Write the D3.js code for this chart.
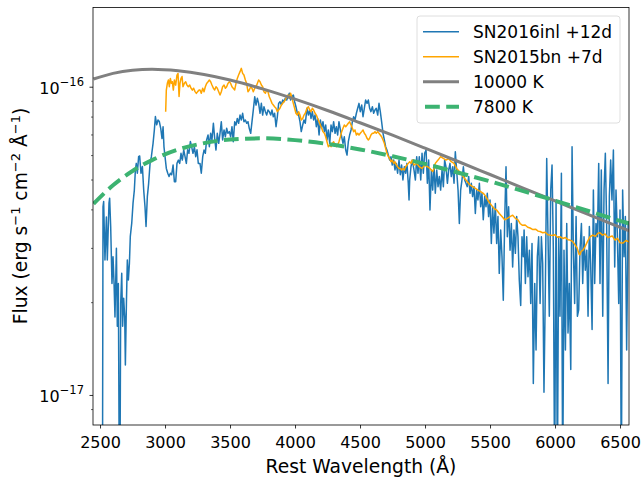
<!DOCTYPE html>
<html><head><meta charset="utf-8">
<script src="https://cdn.jsdelivr.net/npm/d3@7"></script>
<style>body{margin:0;background:#fff} svg{display:block} text{font-family:"DejaVu Sans",sans-serif;fill:#000}</style>
</head><body><svg id="c" width="644" height="477"></svg>
<script>
// Flux values are in units of 1e-17 erg s^-1 cm^-2 Å^-1
const blueWave=[2518,2523,2528,2538,2549,2556,2569,2574,2582,2592,2600,2608,2615,2626,2633,2641,2651,2659,2667,2674,2682,2690,2695,2703,2710,2718,2726,2733,2744,2754,2764,2772,2779,2787,2797,2805,2815,2826,2836,2846,2854,2864,2874,2885,2895,2908,2918,2926,2936,2946,2956,2967,2977,2985,2992,3003,3010,3021,3031,3041,3051,3062,3072,3082,3092,3103,3113,3123,3133,3144,3154,3164,3174,3184,3195,3205,3215,3226,3236,3246,3256,
3269,3279,3290,3300,3310,3320,3331,3341,3351,3361,3372,3382,3392,3402,3413,3423,3433,3443,3454,3464,3474,3484,3495,3505,3515,3525,3536,3546,3556,3566,3577,3587,3597,3607,3618,3628,3638,3648,3659,3669,3679,3690,3700,3710,3720,3731,3741,3751,3761,3772,3782,3792,3802,3813,3823,3833,3843,3854,3864,3874,3884,3895,3905,3915,3925,3936,3946,3956,3966,3977,3987,3997,4007,4018,4028,4038,4048,4059,4069,4079,
4092,4103,4113,4123,4133,4143,4154,4164,4174,4185,4195,4205,4215,4226,4236,4246,4256,4267,4277,4287,4297,4308,4318,4328,4338,4349,4359,4369,4379,4390,4400,4410,4420,4431,4441,4451,4461,4472,4482,4492,4502,4513,4523,4533,4543,4554,4564,4574,4584,4595,4605,4615,4625,4636,4646,4656,4666,4677,4687,4697,4707,4718,4728,4738,4748,4759,4769,4779,4789,4800,4810,4820,4830,4841,4851,4861,4871,4877,4882,4892,4902,
4915,4926,4936,4946,4956,4967,4977,4987,4997,5008,5018,5028,5038,5049,5059,5069,5079,5090,5100,5110,5120,5131,5141,5151,5161,5172,5182,5192,5202,5213,5223,5233,5243,5254,5264,5274,5284,5295,5305,5315,5325,5336,5346,5356,5366,5377,5387,5397,5407,5418,5428,5438,5448,5459,5469,5479,5489,5500,5510,5520,5530,5541,5551,5561,5571,5582,5592,5602,5613,5623,5633,5643,5654,5664,5674,5684,5695,5705,5715,5725,5736,5746,5756,
5762,5772,5782,5792,5803,5813,5823,5833,5844,5854,5864,5874,5885,5895,5905,5915,5926,5936,5946,5956,5967,5977,5987,5997,6008,6018,6028,6038,6049,6059,6069,6080,6090,6100,6110,6121,6131,6141,6151,6162,6172,6182,6192,6203,6213,6223,6233,6244,6254,6264,6274,6285,6295,6305,6315,6326,6336,6346,6356,6367,6377,6387,6397,6408,6418,6428,6438,6449,6459,6469,6479,6490,6500,6510,6520,6531,6541,6551,6562];
const blueFlux=[0.3,4.08,4.24,2.74,3.78,2.74,4.19,4.35,3.52,2.30,2.81,2.30,1.79,2.99,1.67,2.30,0.3,1.98,2.48,1.67,2.06,1.79,1.25,1.98,2.74,2.36,2.67,3.27,3.61,4.19,4.62,5.37,5.64,5.24,5.93,5.96,5.24,5.51,4.62,4.08,3.52,4.40,4.86,5.64,5.93,6.55,7.24,8.00,7.52,7.80,7.71,7.33,6.79,7.41,6.38,5.78,5.43,5.24,5.11,5.24,5.18,5.57,4.92,4.92,5.64,5.78,5.64,6.08,5.78,6.24,5.93,5.64,6.24,6.08,6.64,6.38,6.08,6.38,5.93,6.24,5.64,
5.64,5.24,5.93,6.23,6.08,6.72,6.97,6.39,7.06,6.72,7.61,6.80,6.23,7.06,6.55,7.06,7.70,6.72,7.24,6.88,7.33,7.06,7.15,6.88,7.42,6.63,7.70,7.51,7.89,7.61,8.09,7.80,8.20,7.70,7.80,7.61,7.70,7.33,7.06,7.70,8.40,9.28,8.72,9.17,8.83,8.20,8.83,8.09,8.61,8.30,8.09,8.40,8.30,8.09,8.40,7.99,8.20,7.42,7.99,8.83,8.94,8.72,9.05,8.94,9.17,9.05,9.28,9.52,9.05,9.28,9.40,8.94,8.61,8.20,8.09,7.70,7.15,7.51,7.80,7.61,
8.51,8.09,8.40,7.89,8.30,7.80,8.09,7.42,7.89,6.97,7.80,7.33,7.70,7.15,7.51,6.72,7.24,6.55,7.51,7.15,7.70,7.06,7.42,6.97,7.70,7.24,6.88,6.55,6.88,6.23,6.00,6.63,6.97,7.24,7.70,7.99,7.80,8.20,8.51,8.83,8.30,8.72,7.99,8.51,9.05,8.83,9.05,8.51,8.30,8.61,8.20,8.40,8.51,8.09,8.83,8.30,7.70,7.06,6.72,6.39,6.23,6.00,5.78,5.93,5.57,5.78,5.37,5.64,5.24,5.78,5.18,5.57,4.98,5.50,5.24,5.64,4.86,4.29,4.98,5.50,5.78,
5.37,4.98,5.93,5.24,5.93,4.98,6.08,5.24,6.08,6.23,4.86,5.78,3.98,5.37,4.62,5.57,4.51,5.37,4.74,5.11,4.62,5.37,4.74,5.78,5.50,4.86,5.37,5.64,5.11,5.50,4.86,6.15,5.37,4.62,3.60,4.62,4.98,5.50,4.98,4.86,4.74,5.11,4.51,4.86,4.40,4.74,3.88,4.62,4.29,4.86,4.08,4.51,3.70,4.40,4.08,4.51,3.79,4.29,3.10,4.08,3.35,4.18,3.10,3.79,2.48,3.43,2.81,2.03,3.70,5.50,3.26,4.08,2.95,3.60,2.60,3.43,2.88,3.79,3.26,2.36,1.95,3.26,2.81,
3.43,2.30,3.26,2.42,2.95,1.98,3.10,1.09,2.30,1.40,2.81,3.26,1.98,3.26,2.67,1.02,2.30,5.85,3.26,1.80,4.62,5.57,2.95,0.5,4.29,0.5,3.26,1.80,5.24,0.5,2.95,1.40,3.60,1.59,2.30,1.21,6.39,2.95,1.98,3.79,1.80,1.89,2.95,3.60,2.30,3.26,2.54,2.95,1.80,3.52,2.67,1.63,4.62,2.30,3.60,3.26,5.64,2.30,5.37,1.80,4.62,6.08,3.60,1.09,4.40,5.78,4.29,6.23,2.60,4.62,3.35,1.98,3.98,0.5,4.62,2.81,3.79,1.40,3.60];

const orangeWave=[3005,3010,3018,3026,3033,3041,3049,3056,3064,3072,3082,3092,3100,3108,3115,3123,3131,3138,3149,3159,3169,3179,3190,3200,3210,3220,3231,3241,3251,3262,
3269,3279,3290,3300,3310,3320,3331,3341,3351,3361,3372,3382,3392,3402,3413,3423,3433,3443,3454,3464,3474,3484,3495,3505,3515,3525,3536,3546,3556,3566,3577,3587,3597,3607,3618,3628,3638,3648,3659,3669,3679,3690,3700,3710,3720,3731,3741,3751,3761,3772,3782,3792,3802,3813,3823,3833,3843,3854,3864,3874,3884,3895,3905,3915,3925,3936,3946,3956,3966,3977,3987,3997,4007,4018,4028,4038,4048,4059,4069,4079,
4092,4103,4113,4123,4133,4143,4154,4164,4174,4185,4195,4205,4215,4226,4236,4246,4256,4267,4277,4287,4297,4308,4318,4328,4338,4349,4359,4369,4379,4390,4400,4410,4420,4431,4441,4451,4461,4472,4482,4492,4502,4513,4523,4533,4543,4554,4564,4574,4584,4595,4605,4615,4625,4636,4646,4656,4666,4677,4687,4697,4707,4718,4728,4738,4748,4759,4769,4779,4789,4800,4810,4820,4830,4841,4851,4861,4871,4882,4892,4902,
4915,4936,4956,4977,4997,5018,5038,5059,5069,5079,5100,5120,5141,5161,5182,5202,5223,5243,5264,5284,5305,5325,5346,5366,5387,5407,5428,5448,5469,5489,5510,5530,5551,5571,5592,5613,5633,5654,5674,5695,5715,
5731,5750,5770,5790,5808,5830,5850,5870,5885,5905,5925,5945,5962,5980,6000,6020,6038,6060,6080,6100,6115,6135,6154,6170,6185,6192,6200,6215,6231,6250,6269,6290,6310,6330,6346,6365,6385,6405,6423,6440,6462,6480,6500,6523,6545,6569];
const orangeFlux=[8.30,9.75,10.26,10.52,10.00,10.64,10.26,10.38,9.75,10.52,10.12,10.91,11.04,9.29,10.26,10.64,10.79,10.00,10.26,10.38,10.12,10.00,10.12,9.89,9.75,9.89,9.64,9.51,9.64,9.75,
9.76,9.52,9.88,9.63,10.00,10.25,10.38,10.51,10.38,10.13,9.88,9.76,10.00,9.88,9.63,9.40,9.63,10.00,10.13,9.88,10.00,10.25,10.38,10.25,10.00,9.88,9.76,10.25,10.64,10.91,11.19,11.47,11.05,10.91,10.51,10.25,9.63,9.76,10.00,9.88,9.63,9.88,10.00,10.25,10.51,10.38,10.13,10.00,9.63,9.52,9.76,9.63,9.28,9.05,8.83,8.72,8.61,8.51,8.30,8.40,8.51,8.72,8.83,8.94,9.05,9.28,9.40,9.17,9.52,9.17,8.83,8.51,8.20,8.09,8.30,8.09,7.80,7.89,8.09,8.20,
8.51,8.61,8.40,8.30,8.51,8.40,8.20,8.09,7.89,7.70,7.51,7.33,7.15,7.06,6.88,6.63,6.39,6.47,6.39,6.55,6.63,6.47,6.39,6.47,6.63,6.88,7.15,7.33,7.51,7.42,7.51,7.61,7.70,7.51,7.33,7.15,7.24,6.97,7.06,6.97,7.06,7.15,7.24,7.06,6.97,6.80,6.72,6.80,6.97,7.06,7.06,7.15,7.06,7.15,7.06,6.97,6.88,6.72,6.55,6.31,6.08,5.93,5.85,5.71,5.78,5.64,5.71,5.57,5.50,5.43,5.43,5.37,5.43,5.37,5.50,5.57,5.64,5.71,5.64,5.78,
5.57,5.64,5.50,5.43,5.57,5.50,5.43,5.31,5.43,5.64,5.78,5.93,5.85,5.78,5.85,5.71,5.64,5.43,5.31,5.18,5.04,4.92,4.80,4.74,4.68,4.62,4.57,4.51,4.40,4.24,4.13,4.03,3.98,3.88,3.79,3.70,3.74,3.79,3.83,3.74,3.70,
3.60,3.55,3.56,3.50,3.48,3.44,3.45,3.40,3.39,3.36,3.37,3.31,3.30,3.29,3.31,3.25,3.26,3.22,3.24,3.19,3.18,3.15,3.07,3.00,2.86,2.85,2.92,2.95,3.03,3.15,3.26,3.30,3.27,3.35,3.36,3.30,3.33,3.24,3.26,3.28,3.18,3.22,3.12,3.11,3.17,3.14];

const bbWave=[2450,2600,2750,2900,3100,3300,3500,3750,4000,4250,4500,4750,5000,5250,5500,5750,6000,6250,6500,6570];
const bb10000=[10.59,11.05,11.31,11.39,11.26,10.95,10.51,9.84,9.11,8.37,7.64,6.96,6.32,5.73,5.19,4.70,4.26,3.86,3.50,3.41];
const bb7800=[4.17,4.79,5.33,5.78,6.25,6.56,6.74,6.80,6.71,6.52,6.26,5.95,5.62,5.27,4.93,4.59,4.27,3.96,3.67,3.60];

const xTicks=[2500,3000,3500,4000,4500,5000,5500,6000,6500];
const yMajor=[1,10];
const yMajorLabels=["\u221217","\u221216"];
const yMinor=[0.9,2,3,4,5,6,7,8,9];
const legendLabels=["SN2016inl +12d","SN2015bn +7d","10000 K","7800 K"];

const L=93,R=629,T=7.5,B=425;
const svg=d3.select("#c");
const x=d3.scaleLinear().domain([2446,6569]).range([L,R]);
const y=d3.scaleLog().domain([0.799,18.07]).range([B,T]);

svg.append("defs").append("clipPath").attr("id","clip").append("rect")
  .attr("x",L).attr("y",T).attr("width",R-L).attr("height",B-T);

const g=svg.append("g").attr("clip-path","url(#clip)");
const lin=d3.line().x(d=>x(d[0])).y(d=>y(d[1]));
const smooth=d3.line().x(d=>x(d[0])).y(d=>y(d[1])).curve(d3.curveMonotoneX);

g.append("path").datum(blueWave.map((w,i)=>[w,blueFlux[i]])).attr("d",lin)
  .attr("fill","none").attr("stroke","#1f77b4").attr("stroke-width",1.5).attr("stroke-linejoin","round");
g.append("path").datum(orangeWave.map((w,i)=>[w,orangeFlux[i]])).attr("d",lin)
  .attr("fill","none").attr("stroke","#ffa500").attr("stroke-width",1.5).attr("stroke-linejoin","round");
g.append("path").datum(bbWave.map((w,i)=>[w,bb10000[i]])).attr("d",smooth)
  .attr("fill","none").attr("stroke","#808080").attr("stroke-width",3);
g.append("path").datum(bbWave.map((w,i)=>[w,bb7800[i]])).attr("d",smooth)
  .attr("fill","none").attr("stroke","#3cb371").attr("stroke-width",4).attr("stroke-dasharray","14.8,6.4");

// x axis
const xa=svg.append("g").attr("transform",`translate(0,${B})`)
  .call(d3.axisBottom(x).tickValues(xTicks).tickSize(3.5).tickPadding(3.5).tickFormat(d3.format("d")));
xa.select(".domain").remove();
xa.selectAll("line").attr("stroke","#000").attr("stroke-width",0.8);
xa.selectAll("text").attr("dy",null).attr("y",23).attr("font-size",16).attr("font-family","DejaVu Sans").attr("fill","#000");

// y axis
const ya=svg.append("g").attr("transform",`translate(${L},0)`)
  .call(d3.axisLeft(y).tickValues(yMajor).tickSize(3.5).tickFormat(""));
ya.select(".domain").remove();
ya.selectAll("line").attr("stroke","#000").attr("stroke-width",0.8);
const ym=svg.append("g").attr("transform",`translate(${L},0)`)
  .call(d3.axisLeft(y).tickValues(yMinor).tickSize(2).tickFormat(""));
ym.select(".domain").remove();
ym.selectAll("line").attr("stroke","#000").attr("stroke-width",0.6);

yMajor.forEach((v,i)=>{
  const t=svg.append("text").attr("x",84).attr("y",y(v)+7).attr("text-anchor","end").attr("font-size",16);
  t.append("tspan").text("10");
  t.append("tspan").attr("dy",-8).attr("font-size",11.5).text(yMajorLabels[i]);
});

// frame
svg.append("rect").attr("x",L).attr("y",T).attr("width",R-L).attr("height",B-T)
  .attr("fill","none").attr("stroke","#000").attr("stroke-width",0.8);

// axis labels
svg.append("text").attr("x",(L+R)/2).attr("y",473).attr("text-anchor","middle").attr("font-size",18.7)
  .text("Rest Wavelength (\u00c5)");
const yl=svg.append("text").attr("transform","translate(27,216) rotate(-90)").attr("text-anchor","middle").attr("font-size",18.7);
const parts=[["Flux (erg s",0],["\u22121",1],[" cm",0],["\u22122",1],[" \u00c5",0],["\u22121",1],[")",0]];
let prev=0;
parts.forEach(([s,sup])=>{
  const ts=yl.append("tspan").text(s);
  const dy=sup? -7.5 : (prev? 7.5:0);
  if(dy) ts.attr("dy",dy);
  if(sup) ts.attr("font-size",13);
  prev=sup;
});

// legend
const lg=svg.append("g");
lg.append("rect").attr("x",417).attr("y",16).attr("width",203).attr("height",107).attr("rx",3)
  .attr("fill","#fff").attr("fill-opacity",0.8).attr("stroke","#d6d6d6").attr("stroke-width",0.8);
const styles=[{c:"#1f77b4",w:1.5,d:null},{c:"#ffa500",w:1.5,d:null},{c:"#808080",w:3,d:null},{c:"#3cb371",w:4,d:"14.8,6.4"}];
legendLabels.forEach((lab,i)=>{
  const cy=31.7+i*25;
  const ln=lg.append("line").attr("x1",423).attr("x2",459).attr("y1",cy).attr("y2",cy)
    .attr("stroke",styles[i].c).attr("stroke-width",styles[i].w);
  if(styles[i].d) ln.attr("stroke-dasharray",styles[i].d).attr("stroke-dashoffset",-2);
  lg.append("text").attr("x",473).attr("y",cy+6).attr("font-size",17).text(lab);
});
</script></body></html>
